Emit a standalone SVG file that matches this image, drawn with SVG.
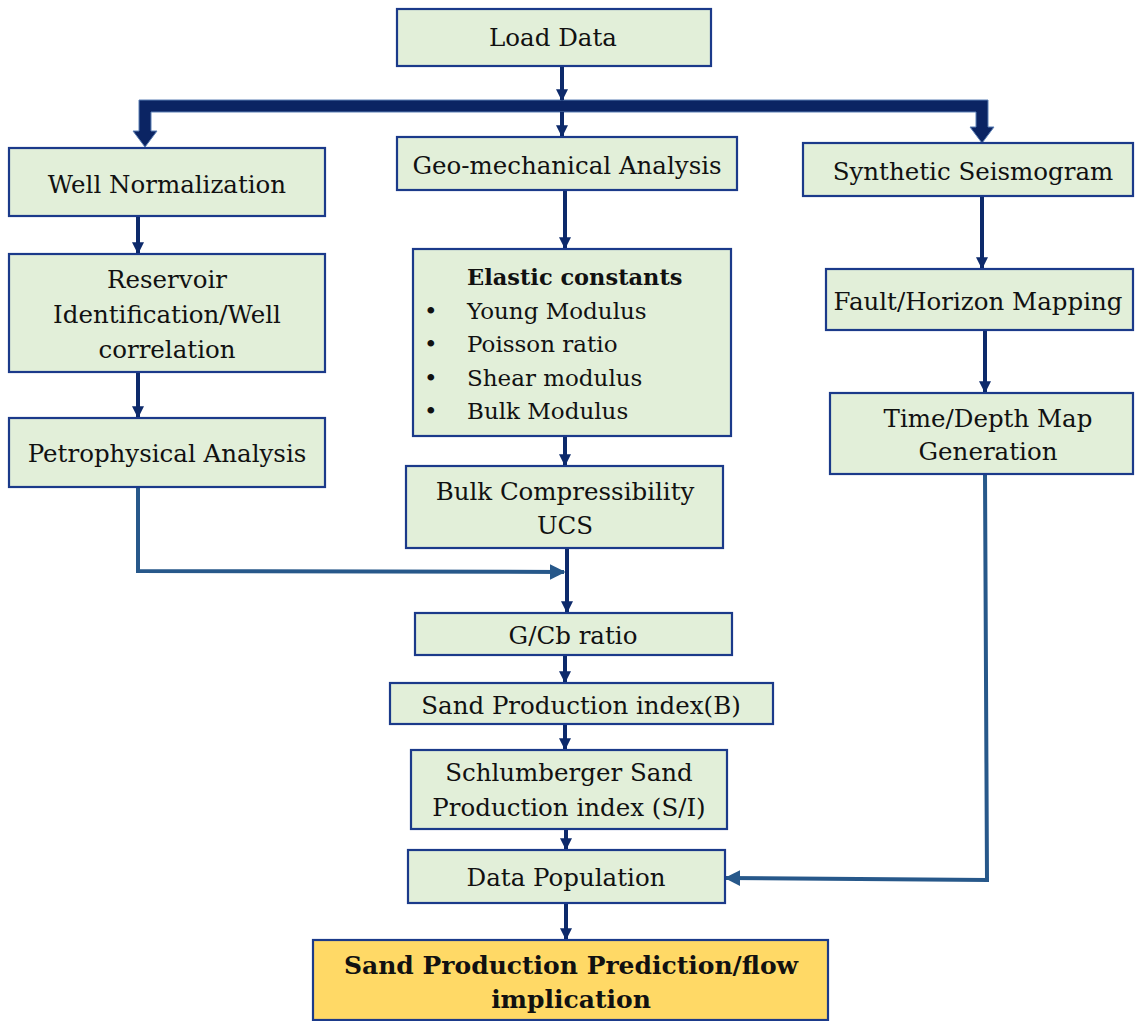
<svg xmlns="http://www.w3.org/2000/svg" width="1135" height="1021" viewBox="0 0 1135 1021">
<style>
.box{fill:#e2efd9;stroke:#1b3a8a;stroke-width:2.2}
.fin{fill:#ffd966;stroke:#1b3a8a;stroke-width:2.2}
.t{font-family:"DejaVu Serif","Liberation Serif",serif;font-size:24.5px;fill:#111;text-anchor:middle}
.tl{font-family:"DejaVu Serif","Liberation Serif",serif;font-size:23px;fill:#111}
.b{font-weight:bold}
.nv{stroke:#0d2a6b;stroke-width:4;fill:none}
.sb{stroke:#27588a;stroke-width:4;fill:none}
</style>
<defs>
<marker id="an" viewBox="0 0 10 10" refX="9" refY="5" markerWidth="3" markerHeight="3" orient="auto"><path d="M0,0 L10,5 L0,10 z" fill="#0d2a6b"/></marker>
<marker id="as" viewBox="0 0 10 10" refX="9" refY="5" markerWidth="4" markerHeight="4" orient="auto"><path d="M0,0 L10,5 L0,10 z" fill="#27588a"/></marker>
</defs>
<g id="connectors">
<polygon points="139,100 988,100 988,127 994,127 982,143 970,127 976,127 976,112 151,112 151,131 157,131 145,147 133,131 139,131" fill="#0b2463" stroke="#5b7fb5" stroke-width="1"/>
<line class="nv" x1="562" y1="67" x2="562" y2="100" marker-end="url(#an)"/>
<line class="nv" x1="562" y1="112" x2="562" y2="136" marker-end="url(#an)"/>
<line class="nv" x1="138" y1="216" x2="138" y2="253" marker-end="url(#an)"/>
<line class="nv" x1="138" y1="372" x2="138" y2="417" marker-end="url(#an)"/>
<polyline class="sb" points="138,487 138,571 564,572" marker-end="url(#as)"/>
<line class="nv" x1="565" y1="190" x2="565" y2="248" marker-end="url(#an)"/>
<line class="nv" x1="565" y1="436" x2="565" y2="465" marker-end="url(#an)"/>
<line class="nv" x1="567" y1="548" x2="567" y2="612" marker-end="url(#an)"/>
<line class="nv" x1="565" y1="655" x2="565" y2="682" marker-end="url(#an)"/>
<line class="nv" x1="565" y1="724" x2="565" y2="749" marker-end="url(#an)"/>
<line class="nv" x1="566" y1="829" x2="566" y2="849" marker-end="url(#an)"/>
<line class="nv" x1="566" y1="903" x2="566" y2="939" marker-end="url(#an)"/>
<line class="nv" x1="982" y1="196" x2="982" y2="268" marker-end="url(#an)"/>
<line class="nv" x1="985" y1="330" x2="985" y2="392" marker-end="url(#an)"/>
<polyline class="sb" points="985,474 987,880 726,878" marker-end="url(#as)"/>
</g>
<g id="load"><rect class="box" x="397" y="9" width="314" height="57"/><text class="t" x="553" y="46">Load Data</text></g>
<g id="wellnorm"><rect class="box" x="9" y="148" width="316" height="68"/><text class="t" x="167" y="193">Well Normalization</text></g>
<g id="geo"><rect class="box" x="397" y="137" width="340" height="53"/><text class="t" x="567" y="174">Geo-mechanical Analysis</text></g>
<g id="synth"><rect class="box" x="803" y="143" width="330" height="53"/><text class="t" x="973" y="180">Synthetic Seismogram</text></g>
<g id="reservoir"><rect class="box" x="9" y="254" width="316" height="118"/><text class="t" x="167" y="288">Reservoir</text><text class="t" x="167" y="323">Identification/Well</text><text class="t" x="167" y="358">correlation</text></g>
<g id="petro"><rect class="box" x="9" y="418" width="316" height="69"/><text class="t" x="167" y="462">Petrophysical Analysis</text></g>
<g id="elastic"><rect class="box" x="413" y="249" width="318" height="187"/>
<text class="tl b" x="467" y="285" style="font-size:22.5px">Elastic constants</text>
<text class="tl" x="424" y="319">•</text><text class="tl" x="467" y="319">Young Modulus</text>
<text class="tl" x="424" y="352">•</text><text class="tl" x="467" y="352">Poisson ratio</text>
<text class="tl" x="424" y="386">•</text><text class="tl" x="467" y="386">Shear modulus</text>
<text class="tl" x="424" y="419">•</text><text class="tl" x="467" y="419">Bulk Modulus</text></g>
<g id="bulk"><rect class="box" x="406" y="466" width="317" height="82"/><text class="t" x="565" y="500">Bulk Compressibility</text><text class="t" x="565" y="534">UCS</text></g>
<g id="gcb"><rect class="box" x="415" y="613" width="317" height="42"/><text class="t" x="573" y="644">G/Cb ratio</text></g>
<g id="spib"><rect class="box" x="390" y="683" width="383" height="41"/><text class="t" x="581" y="714">Sand Production index(B)</text></g>
<g id="schl"><rect class="box" x="411" y="750" width="316" height="79"/><text class="t" x="569" y="781">Schlumberger Sand</text><text class="t" x="569" y="816">Production index (S/I)</text></g>
<g id="datapop"><rect class="box" x="408" y="850" width="317" height="53"/><text class="t" x="566" y="886">Data Population</text></g>
<g id="final"><rect class="fin" x="313" y="940" width="515" height="80"/><text class="t b" x="571" y="974" style="font-size:25px">Sand Production Prediction/flow</text><text class="t b" x="571" y="1008" style="font-size:25px">implication</text></g>
<g id="fault"><rect class="box" x="826" y="269" width="307" height="61"/><text class="t" x="978" y="310">Fault/Horizon Mapping</text></g>
<g id="time"><rect class="box" x="830" y="393" width="303" height="81"/><text class="t" x="988" y="427">Time/Depth Map</text><text class="t" x="988" y="460">Generation</text></g>
</svg>
